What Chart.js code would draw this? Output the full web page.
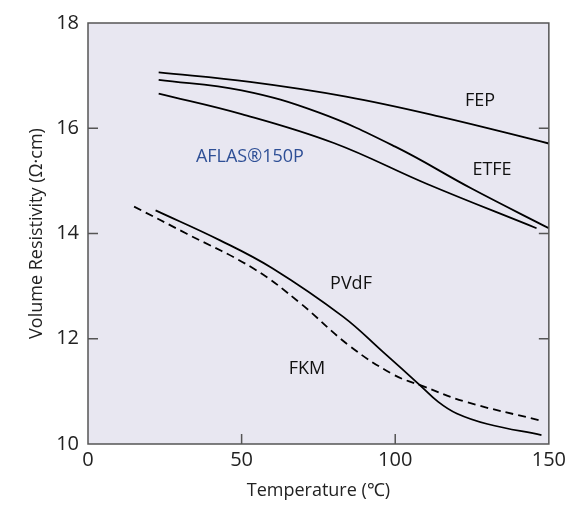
<!DOCTYPE html>
<html>
<head>
<meta charset="utf-8">
<script src="https://cdn.jsdelivr.net/npm/chart.js@4"></script>
<style>
  html, body { margin:0; padding:0; background:#fff; }
  #wrap { width:570px; height:506px; }
</style>
</head>
<body>
<div id="wrap"><canvas id="chart" width="570" height="506"></canvas></div>
<script>
// values (temperature in °C, log10 volume resistivity)
const fepT   = [23, 52.7, 84, 114.5, 150];
const fepV   = [17.06, 16.88, 16.60, 16.22, 15.71];
const etfeT  = [23, 50, 75, 100, 125, 150];
const etfeV  = [16.92, 16.72, 16.30, 15.65, 14.85, 14.10];
const aflasT = [23, 50, 80, 110, 146];
const aflasV = [16.66, 16.27, 15.72, 14.95, 14.10];
const pvdfT  = [22, 43, 60, 83, 96, 108, 114, 120, 130, 147.6];
const pvdfV  = [14.44, 13.87, 13.34, 12.42, 11.75, 11.12, 10.80, 10.58, 10.38, 10.17];
const fkmT   = [15, 32, 54, 69, 85, 99.4, 109, 123, 147];
const fkmV   = [14.51, 14.00, 13.33, 12.68, 11.87, 11.32, 11.10, 10.80, 10.45];

const xTicks = [0, 50, 100, 150];
const yTicks = [10, 12, 14, 16, 18];

// in-plot labels: text, x, y (data units)
const labelText = ["FEP", "ETFE", "AFLAS\u00AE150P", "PVdF", "FKM"];
const labelX    = [127.6, 131.5, 52.7, 85.6, 71.3];
const labelY    = [16.52, 15.21, 15.45, 13.04, 11.42];
const labelCol  = ["#111", "#111", "#2e4f96", "#111", "#111"];

const FONT = "'Open Sans', sans-serif";

function pts(xs, ys){ return xs.map((x,i)=>({x:x, y:ys[i]})); }

function line(xs, ys, dashed){
  return {
    data: pts(xs, ys),
    borderColor: "#000",
    borderWidth: 1.8,
    borderDash: dashed ? [8, 5] : [],
    pointRadius: 0,
    fill: false,
    tension: 0.4
  };
}

const frame = {
  id: "frame",
  beforeDraw(chart){
    const {ctx, chartArea:a} = chart;
    ctx.save();
    ctx.fillStyle = "#e8e7f1";
    ctx.fillRect(a.left, a.top, a.right-a.left, a.bottom-a.top);
    ctx.restore();
  },
  afterDatasetsDraw(chart){
    const {ctx, chartArea:a, scales} = chart;
    ctx.save();
    ctx.strokeStyle = "#555";
    ctx.lineWidth = 1.5;
    ctx.strokeRect(a.left, a.top, a.right-a.left, a.bottom-a.top);
    ctx.beginPath();
    const tl = 10;
    yTicks.slice(1, -1).forEach(v=>{
      const y = scales.y.getPixelForValue(v);
      ctx.moveTo(a.left, y); ctx.lineTo(a.left+tl, y);
      ctx.moveTo(a.right, y); ctx.lineTo(a.right-tl, y);
    });
    xTicks.slice(1, -1).forEach(v=>{
      const x = scales.x.getPixelForValue(v);
      ctx.moveTo(x, a.bottom); ctx.lineTo(x, a.bottom-tl);
    });
    ctx.stroke();

    ctx.font = "18px " + FONT;
    ctx.textAlign = "center";
    ctx.textBaseline = "middle";
    labelText.forEach((t,i)=>{
      ctx.fillStyle = labelCol[i];
      ctx.fillText(t, scales.x.getPixelForValue(labelX[i]), scales.y.getPixelForValue(labelY[i]));
    });
    ctx.restore();
  }
};

new Chart(document.getElementById("chart"), {
  type: "line",
  data: {
    datasets: [
      line(fepT, fepV),
      line(etfeT, etfeV),
      line(aflasT, aflasV),
      line(pvdfT, pvdfV),
      line(fkmT, fkmV, true)
    ]
  },
  options: {
    responsive: false,
    animation: false,
    layout: { padding: { left: 26, top: 23, right: 21, bottom: 0 } },
    plugins: { legend: { display: false }, tooltip: { enabled: false } },
    scales: {
      x: {
        type: "linear",
        min: 0, max: 150,
        afterBuildTicks: s => { s.ticks = xTicks.map(v=>({value:v})); },
        afterFit: s => { s.height = 62; },
        grid: { display: false, drawTicks: false },
        border: { display: false },
        ticks: { color: "#222", font: { family: FONT, size: 20 }, padding: 4 },
        title: { display: true, text: "Temperature (\u2103)", color: "#222",
                 font: { family: FONT, size: 18 }, padding: { top: 5 } }
      },
      y: {
        min: 10, max: 18,
        afterBuildTicks: s => { s.ticks = yTicks.map(v=>({value:v})); },
        afterFit: s => { s.width = 62; },
        grid: { display: false, drawTicks: false },
        border: { display: false },
        ticks: { color: "#222", font: { family: FONT, size: 20 }, padding: 9 },
        title: { display: true, text: "Volume Resistivity (\u03A9\u00B7cm)", color: "#222",
                 font: { family: FONT, size: 18 }, padding: { top: 0, bottom: 0 } }
      }
    }
  },
  plugins: [frame]
});
</script>
</body>
</html>
